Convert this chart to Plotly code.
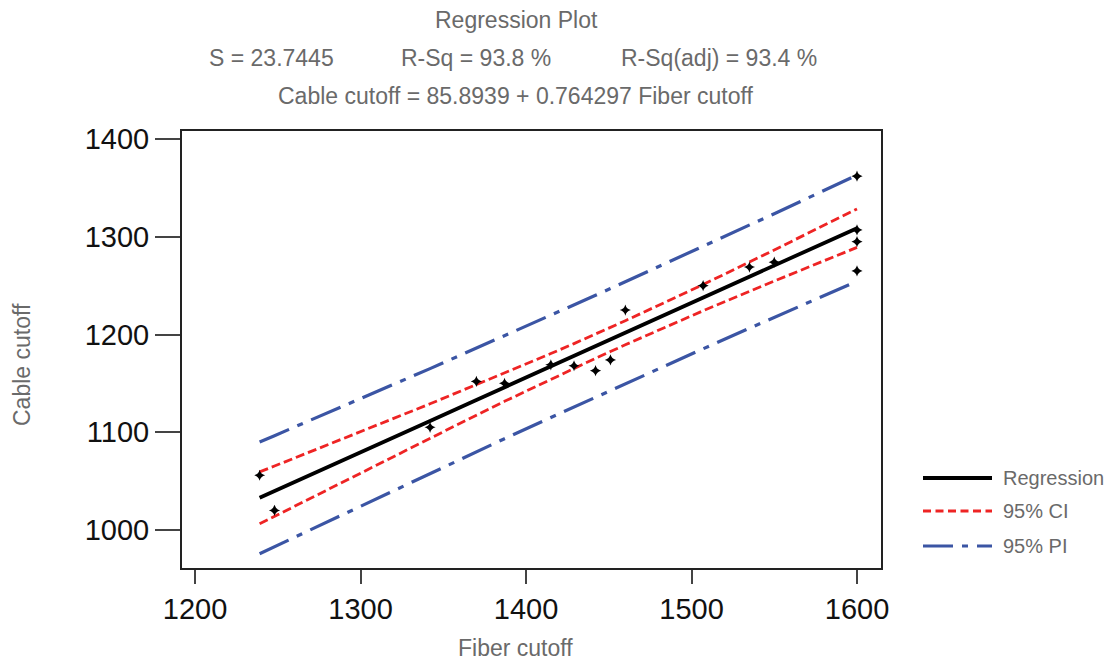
import plotly.graph_objects as go

# ---- data ----
obs_x = [1239, 1248, 1342, 1370, 1387, 1415, 1429, 1442, 1451, 1460, 1507, 1535, 1550, 1600, 1600, 1600, 1600]
obs_y = [1056, 1020, 1105, 1152, 1150, 1169, 1168, 1163, 1174, 1225, 1250, 1269, 1274, 1362, 1307, 1295, 1265]

fit_x = [1239, 1248, 1342, 1370, 1387, 1415, 1429, 1442, 1451, 1460, 1507, 1535, 1550, 1600]
fit_y = [1032.9, 1039.7, 1111.6, 1133.0, 1146.0, 1167.4, 1178.1, 1188.0, 1194.9, 1201.8, 1237.7, 1259.1, 1270.6, 1308.8]
ci_upper = [1059.5, 1065.4, 1129.1, 1148.5, 1160.4, 1180.5, 1190.7, 1200.4, 1207.2, 1214.1, 1251.1, 1274.0, 1286.5, 1328.5]
ci_lower = [1006.3, 1014.0, 1094.1, 1117.5, 1131.6, 1154.3, 1165.5, 1175.6, 1182.6, 1189.5, 1224.3, 1244.2, 1254.7, 1289.1]
pi_upper = [1090.1, 1096.5, 1165.1, 1185.9, 1198.6, 1219.7, 1230.3, 1240.1, 1247.0, 1253.9, 1290.0, 1311.8, 1323.6, 1363.1]
pi_lower = [975.7, 982.9, 1058.1, 1080.1, 1093.4, 1115.1, 1125.9, 1135.9, 1142.8, 1149.7, 1185.4, 1206.4, 1217.6, 1254.5]

x_ticks = [1200, 1300, 1400, 1500, 1600]
y_ticks = [1000, 1100, 1200, 1300, 1400]

legend_names = ["Regression", "95% CI", "95% PI"]

# ---- styles ----
BLACK = "#000000"
RED = "#ee2424"
BLUE = "#3b55a4"
GREY = "#6a6a6a"
FONT = "Liberation Sans, Arial, sans-serif"
CI_DASH = "9px,4px"
PI_DASH = "32px,9px,6px,9px"

fig = go.Figure()
fig.add_trace(go.Scatter(x=fit_x, y=pi_upper, mode="lines",
                         line=dict(color=BLUE, width=3.2, dash=PI_DASH), hoverinfo="skip"))
fig.add_trace(go.Scatter(x=fit_x, y=pi_lower, mode="lines",
                         line=dict(color=BLUE, width=3.2, dash=PI_DASH), hoverinfo="skip"))
fig.add_trace(go.Scatter(x=fit_x, y=ci_upper, mode="lines",
                         line=dict(color=RED, width=2.8, dash=CI_DASH), hoverinfo="skip"))
fig.add_trace(go.Scatter(x=fit_x, y=ci_lower, mode="lines",
                         line=dict(color=RED, width=2.8, dash=CI_DASH), hoverinfo="skip"))
fig.add_trace(go.Scatter(x=fit_x, y=fit_y, mode="lines",
                         line=dict(color=BLACK, width=3.8), hoverinfo="skip"))
fig.add_trace(go.Scatter(x=obs_x, y=obs_y, mode="markers",
                         marker=dict(symbol="star-diamond", size=8, color=BLACK)))

# page-pixel geometry of the plot box (page has an 8px body margin)
OFF = 8
L, R, T, B = 182, 881, 131, 568
W, H = 1115 - OFF, 660 - OFF

def px_x(p):
    return (p - L) / (R - L)

def px_y(p):
    return (B - p) / (B - T)

annotations = []
def ann(text, x, y, size=23, color=GREY, xanchor="center", textangle=0):
    annotations.append(dict(text=text, x=px_x(x), y=px_y(y), xref="paper", yref="paper",
                            showarrow=False, xanchor=xanchor, yanchor="middle",
                            textangle=textangle,
                            font=dict(family=FONT, size=size, color=color)))

ann("Regression Plot", 516, 20)
ann("S = 23.7445", 271, 58)
ann("R-Sq = 93.8 %", 476, 58)
ann("R-Sq(adj) = 93.4 %", 719, 58)
ann("Cable cutoff = 85.8939 + 0.764297 Fiber cutoff", 515, 96)
ann("Fiber cutoff", 515, 648)
ann("Cable cutoff", 22, 365, textangle=-90)

# manual legend
shapes = []
leg_rows = [(478, BLACK, 3.8, "solid"), (511, RED, 2.8, "8px,4.5px"), (546, BLUE, 3.2, "30px,9px,6px,9px")]
for name, (yy, col, wd, dsh) in zip(legend_names, leg_rows):
    shapes.append(dict(type="line", xref="paper", yref="paper",
                       x0=px_x(923), x1=px_x(992), y0=px_y(yy), y1=px_y(yy),
                       line=dict(color=col, width=wd, dash=dsh)))
    ann(name, 1001, yy, size=20, xanchor="left")

axis_common = dict(showgrid=False, zeroline=False, showline=True, mirror=True,
                   linecolor="#222222", linewidth=2, ticks="outside",
                   tickcolor="#444444", tickwidth=1.5,
                   tickfont=dict(family=FONT, size=29, color="#111111"))

fig.update_layout(
    width=W, height=H,
    margin=dict(l=L - OFF, r=1115 - R, t=T - OFF, b=660 - B, pad=0),
    paper_bgcolor="white", plot_bgcolor="white",
    showlegend=False,
    xaxis=dict(range=[1192.1, 1614.5], tickvals=x_ticks, ticklen=14, **axis_common),
    yaxis=dict(range=[961.1, 1408.2], tickvals=y_ticks, ticklen=25, **axis_common),
    annotations=annotations,
    shapes=shapes,
)

fig.write_html("out.html")
